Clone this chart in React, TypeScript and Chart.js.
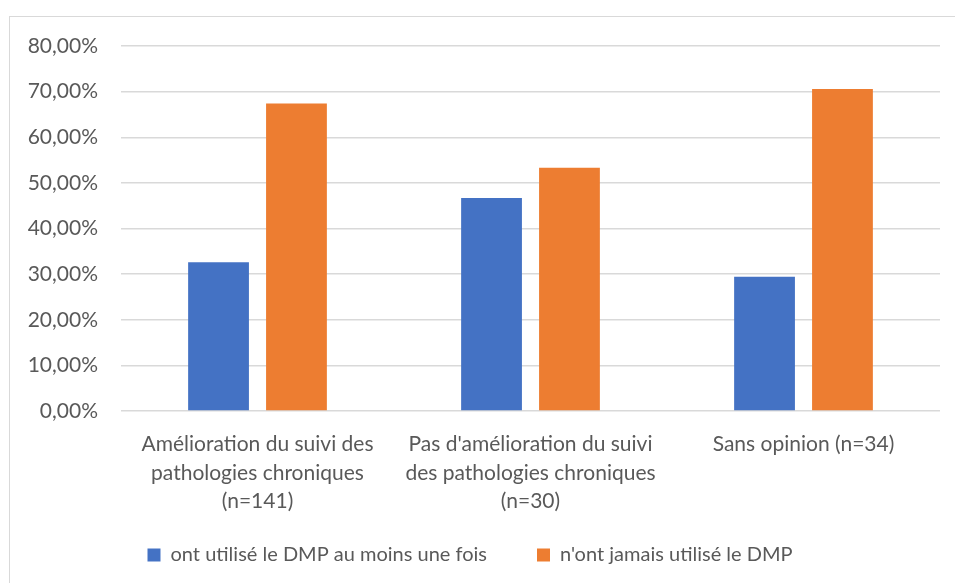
import React, { useEffect, useRef } from "react";
import { Chart, registerables } from "chart.js";

Chart.register(...registerables);

const categories: string[][] = [
  ["Amélioration du suivi des", "pathologies chroniques", "(n=141)"],
  ["Pas d'amélioration du suivi", "des pathologies chroniques", "(n=30)"],
  ["Sans opinion (n=34)"],
];
const seriesNames = ["ont utilisé le DMP au moins une fois", "n'ont jamais utilisé le DMP"];
const usedValues = [32.62, 46.67, 29.41];
const neverValues = [67.38, 53.33, 70.59];
const yMin = 0;
const yMax = 80;
const yStep = 10;

const FONT = "Lato, 'Open Sans', sans-serif";
const TEXT = "#595959";
const COLORS = ["#4472C4", "#ED7D31"];

export default function App() {
  const ref = useRef<HTMLCanvasElement | null>(null);
  useEffect(() => {
    if (!ref.current) return;
    const chart = new Chart(ref.current, {
      type: "bar",
      data: {
        labels: categories,
        datasets: [
          {
            label: seriesNames[0],
            data: usedValues,
            backgroundColor: COLORS[0],
            categoryPercentage: 0.571,
            barPercentage: 0.78,
          },
          {
            label: seriesNames[1],
            data: neverValues,
            backgroundColor: COLORS[1],
            categoryPercentage: 0.571,
            barPercentage: 0.78,
          },
        ],
      },
      options: {
        animation: false,
        responsive: false,
        layout: { padding: { left: 0, top: 46, right: 15, bottom: 8 } },
        plugins: {
          tooltip: { enabled: false },
          legend: {
            position: "bottom",
            maxHeight: 44,
            labels: {
              boxWidth: 13,
              boxHeight: 13,
              padding: 10,
              color: TEXT,
              font: { family: FONT, size: 20 },
              generateLabels: (c: any) => {
                const items = Chart.defaults.plugins.legend.labels.generateLabels(c);
                return items.map((it: any, i: number) => ({
                  ...it,
                  lineWidth: 0,
                  text: i === 0 ? it.text + "\u2003\u2003\u2002" : it.text,
                }));
              },
            },
          },
        },
        scales: {
          x: {
            grid: { display: false, drawTicks: false },
            border: { display: false },
            ticks: {
              color: TEXT,
              padding: 19,
              maxRotation: 0,
              autoSkip: false,
              font: { family: FONT, size: 21, lineHeight: 1.36 },
            },
            afterFit: (s: any) => {
              s.height = 124;
            },
          },
          y: {
            min: yMin,
            max: yMax,
            grid: { color: "#d9d9d9", lineWidth: 1.5, drawTicks: false },
            border: { display: false },
            ticks: {
              stepSize: yStep,
              color: TEXT,
              padding: 23,
              font: { family: FONT, size: 21 },
              callback: (v: any) => Number(v).toFixed(2).replace(".", ",") + "%",
            },
            afterFit: (s: any) => {
              s.width = 121;
            },
          },
        },
      },
    });
    return () => chart.destroy();
  }, []);
  return (
    <div style={{ position: "fixed", left: 0, top: 0, width: 955, height: 583, background: "#fff", overflow: "hidden" }}>
      <div style={{ position: "absolute", left: 9, top: 16, width: 960, height: 600, border: "1px solid #d9d9d9" }} />
      <canvas ref={ref} width={955} height={583} style={{ position: "absolute", left: 0, top: 0 }} />
    </div>
  );
}
